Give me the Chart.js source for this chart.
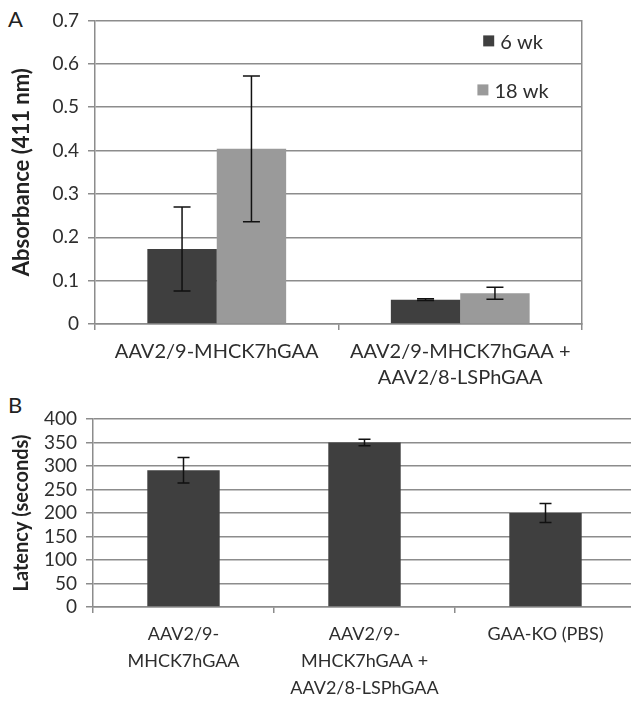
<!DOCTYPE html>
<html lang="en">
<head>
  <meta charset="UTF-8">
  <title>Absorbance and latency</title>
  <script src="https://cdn.jsdelivr.net/npm/chart.js"></script>
  <style>
    html, body { margin: 0; padding: 0; background: #fff; overflow: hidden; }
    body { width: 631px; height: 701px; position: relative; font-family: Lato, sans-serif; }
    .panel { position: absolute; left: 8px; font-size: 22px; color: #222; line-height: 1; }
    #chartA { position: absolute; left: 0; top: 0; }
    #chartB { position: absolute; left: 0; top: 390px; }
  </style>
</head>
<body>
  <div class="panel" style="top:8px">A</div>
  <div class="panel" style="top:394px">B</div>
  <canvas id="chartA" width="631" height="390"></canvas>
  <canvas id="chartB" width="640" height="311"></canvas>

  <script>
    // panel A data
    const groupsA = [['AAV2/9-MHCK7hGAA'], ['AAV2/9-MHCK7hGAA +', 'AAV2/8-LSPhGAA']];
    const wk6 = [0.173, 0.056];
    const wk6Err = [0.097, 0.002];
    const wk18 = [0.404, 0.071];
    const wk18Err = [0.168, 0.014];
    const seriesNamesA = ['6 wk', '18 wk'];

    // panel B data
    const groupsB = [['AAV2/9-', 'MHCK7hGAA'], ['AAV2/9-', 'MHCK7hGAA +', 'AAV2/8-LSPhGAA'], ['GAA-KO (PBS)']];
    const latency = [291, 350, 200];
    const latencyErr = [27, 7, 20];

    const dark = '#3f3f3f';
    const light = '#9a9a9a';
    const gridCol = '#8c8c8c';
    const textCol = '#2e2e2e';

    // error bars, drawn from the bar elements and the y scale
    const errorBars = {
      id: 'errorBars',
      afterDatasetsDraw(chart, args, opts) {
        const ctx = chart.ctx;
        const y = chart.scales.y;
        ctx.save();
        ctx.strokeStyle = '#111';
        ctx.lineWidth = 1.5;
        chart.data.datasets.forEach((ds, di) => {
          if (!ds.errors) return;
          chart.getDatasetMeta(di).data.forEach((bar, i) => {
            const v = ds.data[i], e = ds.errors[i];
            const top = y.getPixelForValue(v + e);
            const bot = y.getPixelForValue(v - e);
            const w = opts.cap / 2;
            ctx.beginPath();
            ctx.moveTo(bar.x, top); ctx.lineTo(bar.x, bot);
            ctx.moveTo(bar.x - w, top); ctx.lineTo(bar.x + w, top);
            ctx.moveTo(bar.x - w, bot); ctx.lineTo(bar.x + w, bot);
            ctx.stroke();
          });
        });
        ctx.restore();
      }
    };

    // legend inside the plot, near the top right corner
    const innerLegend = {
      id: 'innerLegend',
      afterDraw(chart, args, opts) {
        if (!opts.show) return;
        const ctx = chart.ctx;
        const area = chart.chartArea;
        ctx.save();
        ctx.font = '20px Lato, sans-serif';
        ctx.textBaseline = 'middle';
        chart.data.datasets.forEach((ds, i) => {
          const cy = area.top + 21 + i * 49;
          const tw = ctx.measureText(ds.label).width;
          const x0 = area.right - 69 - (tw + 17) / 2;
          ctx.fillStyle = ds.backgroundColor;
          ctx.fillRect(x0, cy - 6, 11, 11);
          ctx.fillStyle = textCol;
          ctx.fillText(ds.label, x0 + 17, cy + 1);
        });
        ctx.restore();
      }
    };

    function yAxis(max, step, title, titleSize, width) {
      return {
        min: 0, max: max,
        ticks: { stepSize: step, padding: 9, autoSkip: false, color: textCol, font: { family: 'Lato', size: 19 } },
        grid: { color: gridCol, lineWidth: 1.5, tickLength: 7 },
        border: { color: gridCol, width: 1.5 },
        title: {
          display: true, text: title, color: '#222',
          font: { family: 'Lato', size: titleSize, weight: 'bold' },
          padding: { top: 22 - titleSize * 0.6, bottom: 0 }
        },
        afterFit(scale) { scale.width = width; }
      };
    }

    function xAxis(height, size, lineHeight, pad) {
      return {
        ticks: { color: textCol, padding: pad, maxRotation: 0, autoSkip: false,
                 font: { family: 'Lato', size: size, lineHeight: lineHeight } },
        grid: { display: true, drawOnChartArea: false, color: gridCol, lineWidth: 1.5, tickLength: 6 },
        border: { color: gridCol, width: 1.5 },
        afterFit(scale) { scale.height = height; }
      };
    }

    new Chart(document.getElementById('chartA'), {
      type: 'bar',
      data: {
        labels: groupsA,
        datasets: [
          { label: seriesNamesA[0], data: wk6, errors: wk6Err, backgroundColor: dark },
          { label: seriesNamesA[1], data: wk18, errors: wk18Err, backgroundColor: light }
        ]
      },
      options: {
        responsive: false,
        animation: false,
        devicePixelRatio: 1,
        datasets: { bar: { categoryPercentage: 0.57, barPercentage: 1, borderWidth: 0 } },
        layout: { padding: { top: 17, right: 49, left: 0, bottom: 0 } },
        scales: {
          x: xAxis(66, 20, 1.3, 9),
          y: yAxis(0.7, 0.1, 'Absorbance (411 nm)', 22, 95),
          y2: {
            position: 'right', min: 0, max: 0.7,
            ticks: { display: false },
            grid: { drawOnChartArea: false, drawTicks: false },
            border: { color: gridCol, width: 1.5 },
            afterFit(scale) { scale.width = 0; }
          }
        },
        plugins: {
          legend: { display: false },
          tooltip: { enabled: false },
          errorBars: { cap: 17 },
          innerLegend: { show: true }
        }
      },
      plugins: [errorBars, innerLegend]
    });

    new Chart(document.getElementById('chartB'), {
      type: 'bar',
      data: {
        labels: groupsB,
        datasets: [
          { label: 'Latency', data: latency, errors: latencyErr, backgroundColor: dark }
        ]
      },
      options: {
        responsive: false,
        animation: false,
        devicePixelRatio: 1,
        datasets: { bar: { categoryPercentage: 0.4, barPercentage: 1, borderWidth: 0 } },
        layout: { padding: { top: 29, right: 4, left: 0, bottom: 0 } },
        scales: {
          x: xAxis(94, 18, 1.5, 8),
          y: yAxis(400, 50, 'Latency (seconds)', 20, 93)
        },
        plugins: {
          legend: { display: false },
          tooltip: { enabled: false },
          errorBars: { cap: 12 },
          innerLegend: { show: false }
        }
      },
      plugins: [errorBars, innerLegend]
    });
  </script>
</body>
</html>
